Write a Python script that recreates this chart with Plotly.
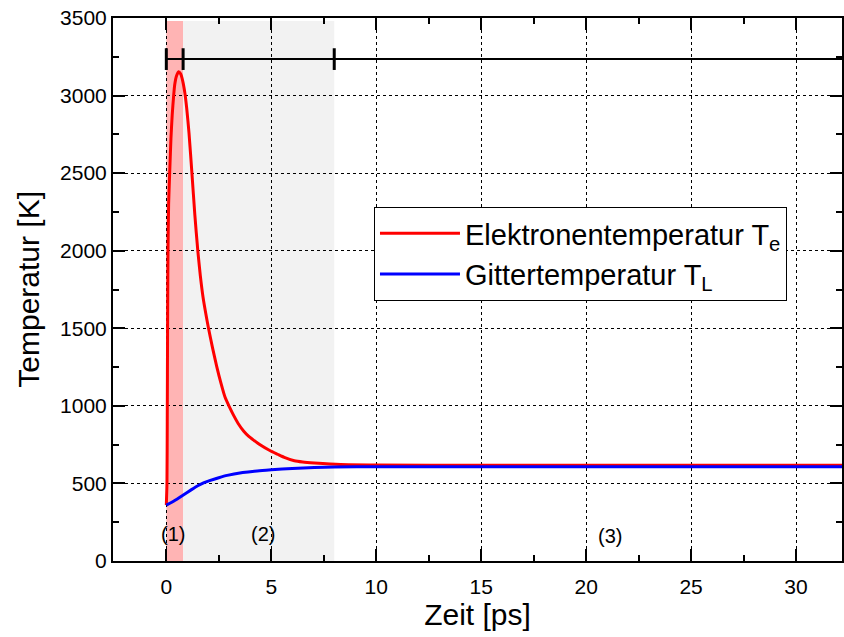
import plotly.graph_objects as go

# Electron temperature T_e
te_t = [0, 0.03, 0.045, 0.06, 0.08, 0.11, 0.16, 0.22, 0.28, 0.35, 0.40, 0.48, 0.585, 0.68, 0.78,
        0.88, 0.97, 1.08, 1.22, 1.36, 1.50, 1.62, 1.75, 1.88, 2.01, 2.2, 2.4, 2.6, 2.8, 3.0,
        3.2, 3.43, 3.7, 3.93, 4.2, 4.43, 4.93, 5.30, 5.62, 6.10, 6.50, 7.05, 8.30, 10, 15, 20, 25, 30, 33]
te_T = [360, 500, 900, 1500, 2000, 2300, 2500, 2720, 2874, 3000, 3070, 3125, 3154, 3140, 3095,
        3020, 2920, 2760, 2500, 2230, 2000, 1840, 1700, 1595, 1500, 1375, 1255, 1148, 1055, 995,
        940, 885, 835, 803, 775, 752, 712, 688, 668, 646, 638, 632, 622, 619, 617, 617, 617, 617, 617]

# Lattice temperature T_L
tl_t = [0, 0.4, 0.79, 1.2, 1.5, 1.8, 2.06, 2.5, 2.9, 3.64, 4.2, 4.75, 5.0, 6.0, 7.05, 8.0, 10, 15, 20, 25, 30, 33]
tl_T = [360, 390, 424, 460, 485, 505, 518, 537, 552, 570, 579, 585, 588, 597, 603, 606, 607, 607, 607, 607, 607, 607]

# Phase boundaries [ps] and marker bar level [K]
phase_bounds = [0, 0.8, 8]
bar_level = 3235
bar_end = 40
shade_top = 3480
phase_labels = ["(1)", "(2)", "(3)"]
label_x = [0.32, 4.62, 21.15]
label_y = [177, 177, 158]

FONT = "Liberation Sans, Arial, sans-serif"

fig = go.Figure()

# shaded phases
fig.add_shape(type="rect", xref="x", yref="y", x0=phase_bounds[0], x1=phase_bounds[1],
              y0=0, y1=shade_top, fillcolor="#FFB4B4", line_width=0, layer="below")
fig.add_shape(type="rect", xref="x", yref="y", x0=phase_bounds[1], x1=phase_bounds[2],
              y0=0, y1=shade_top, fillcolor="#F2F2F2", line_width=0, layer="below")

# phase bar
fig.add_trace(go.Scatter(x=[phase_bounds[0], bar_end], y=[bar_level, bar_level], mode="lines",
                         line=dict(color="black", width=2), showlegend=False, hoverinfo="skip"))
for xb in phase_bounds:
    fig.add_shape(type="line", xref="x", yref="y", x0=xb, x1=xb, y0=bar_level - 70, y1=bar_level + 70,
                  line=dict(color="black", width=3))

fig.add_trace(go.Scatter(x=te_t, y=te_T, mode="lines",
                         line=dict(color="#FF0000", width=3, shape="spline", smoothing=0.6),
                         name="Elektronentemperatur T<sub>e</sub>"))
fig.add_trace(go.Scatter(x=tl_t, y=tl_T, mode="lines",
                         line=dict(color="#0000FF", width=3, shape="spline", smoothing=0.6),
                         name="Gittertemperatur T<sub>L</sub>"))

for lab, lx, ly in zip(phase_labels, label_x, label_y):
    fig.add_annotation(x=lx, y=ly, xref="x", yref="y", text=lab, showarrow=False,
                       font=dict(family=FONT, size=20, color="black"))

# y-axis title
fig.add_annotation(x=-0.1163, y=0.5, xref="paper", yref="paper", text="Temperatur [K]",
                   textangle=-90, showarrow=False, xanchor="center", yanchor="middle",
                   font=dict(family=FONT, size=30, color="black"))

axis_common = dict(
    showline=True, linecolor="black", linewidth=2, mirror="ticks",
    ticks="inside", ticklen=12, tickwidth=2, tickcolor="black",
    showgrid=True, gridcolor="black", gridwidth=1, griddash="dot",
    zeroline=False,
    tickfont=dict(family=FONT, size=21, color="black"),
)

fig.update_xaxes(range=[-2.54, 32.19], tickvals=[0, 5, 10, 15, 20, 25, 30],
                 ticklabelstandoff=6,
                 minor=dict(ticks="inside", ticklen=6, tickwidth=2, tickcolor="black", dtick=2.5, tick0=0, showgrid=False),
                 title=dict(text="Zeit [ps]", font=dict(family=FONT, size=30, color="black"), standoff=6),
                 **axis_common)
fig.update_yaxes(range=[0, 3500], tickvals=[0, 500, 1000, 1500, 2000, 2500, 3000, 3500],
                 minor=dict(ticks="inside", ticklen=6, tickwidth=2, tickcolor="black", dtick=250, tick0=0, showgrid=False),
                 **axis_common)

fig.update_layout(
    width=844, height=637,
    margin=dict(l=113, r=0, t=18, b=76),
    plot_bgcolor="white", paper_bgcolor="white",
    font=dict(family=FONT, color="black"),
    legend=dict(x=0.358, y=0.652, xanchor="left", yanchor="top",
                bgcolor="white", bordercolor="black", borderwidth=1,
                font=dict(family=FONT, size=29, color="black"),
                itemwidth=80, tracegroupgap=0),
)

fig.write_html("out.html")
